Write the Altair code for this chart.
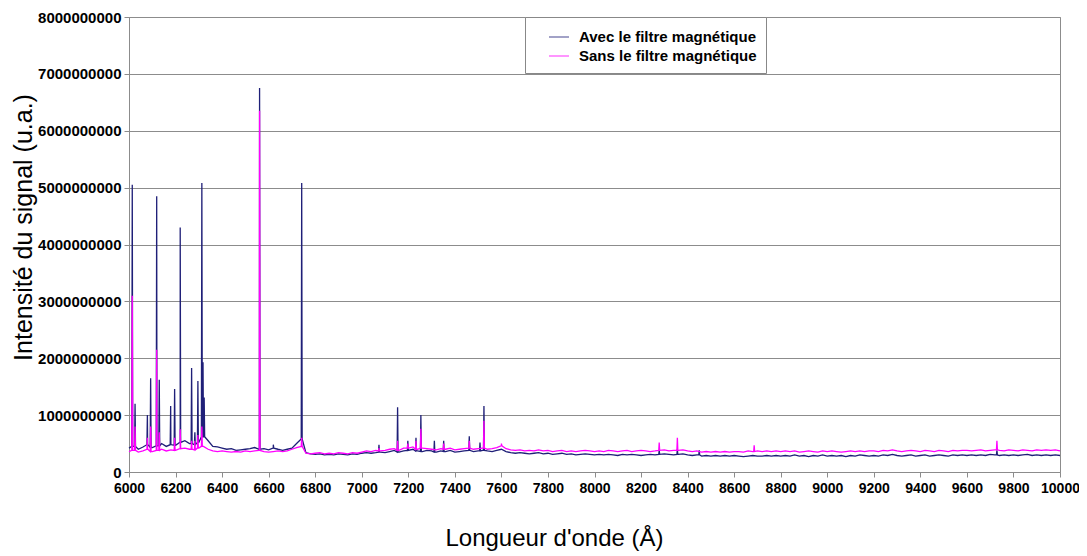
import altair as alt
import pandas as pd

# Sampled wavelength grid (Angstrom) for the continuum, every 20 A
grid_wl = list(range(6000, 10001, 20))

# Continuum level, in units of 1e9
avec_base = [
    0.42, 0.45, 0.40, 0.44, 0.48, 0.43, 0.46, 0.50, 0.45, 0.48, 0.47, 0.52, 0.55, 0.50, 0.48, 0.52, 0.62, 0.55, 0.45, 0.44,
    0.42, 0.40, 0.41, 0.38, 0.39, 0.40, 0.41, 0.43, 0.40, 0.41, 0.39, 0.42, 0.40, 0.38, 0.40, 0.42, 0.50, 0.58, 0.34, 0.32,
    0.31, 0.32, 0.30, 0.31, 0.30, 0.32, 0.31, 0.30, 0.32, 0.31, 0.33, 0.34, 0.33, 0.34, 0.35, 0.34, 0.36, 0.38, 0.35, 0.37,
    0.38, 0.40, 0.37, 0.36, 0.38, 0.37, 0.35, 0.37, 0.36, 0.38, 0.35, 0.36, 0.37, 0.38, 0.36, 0.37, 0.38, 0.37, 0.36, 0.38,
    0.40, 0.36, 0.34, 0.33, 0.34, 0.33, 0.32, 0.33, 0.34, 0.32, 0.33, 0.31, 0.32, 0.33, 0.31, 0.32, 0.30, 0.31, 0.32, 0.31,
    0.30, 0.31, 0.30, 0.31, 0.30, 0.29, 0.31, 0.30, 0.31, 0.30, 0.29, 0.30, 0.31, 0.30, 0.31, 0.32, 0.31, 0.30, 0.31, 0.32,
    0.30, 0.29, 0.30, 0.28, 0.29, 0.28, 0.29, 0.28, 0.29, 0.28, 0.29, 0.28, 0.27, 0.28, 0.29, 0.28, 0.28, 0.29, 0.28, 0.29,
    0.28, 0.29, 0.28, 0.30, 0.28, 0.29, 0.27, 0.29, 0.28, 0.30, 0.28, 0.29, 0.28, 0.29, 0.27, 0.29, 0.28, 0.30, 0.29, 0.28,
    0.29, 0.28, 0.30, 0.29, 0.31, 0.29, 0.28, 0.29, 0.30, 0.28, 0.29, 0.30, 0.28, 0.29, 0.30, 0.29, 0.28, 0.30, 0.29, 0.30,
    0.29, 0.30, 0.29, 0.30, 0.29, 0.31, 0.30, 0.29, 0.30, 0.29, 0.30, 0.29, 0.30, 0.31, 0.29, 0.30, 0.29, 0.30, 0.29, 0.30,
    0.29,
]
sans_base = [
    0.36, 0.38, 0.35, 0.37, 0.40, 0.36, 0.38, 0.40, 0.37, 0.39, 0.38, 0.41, 0.42, 0.40, 0.39, 0.42, 0.45, 0.40, 0.37, 0.36,
    0.37, 0.36, 0.35, 0.36, 0.35, 0.37, 0.36, 0.37, 0.38, 0.36, 0.35, 0.36, 0.37, 0.36, 0.37, 0.40, 0.43, 0.45, 0.33, 0.32,
    0.33, 0.34, 0.32, 0.33, 0.32, 0.34, 0.33, 0.32, 0.34, 0.33, 0.35, 0.37, 0.36, 0.38, 0.37, 0.38, 0.40, 0.41, 0.38, 0.42,
    0.42, 0.44, 0.40, 0.42, 0.41, 0.40, 0.39, 0.41, 0.40, 0.42, 0.39, 0.40, 0.41, 0.42, 0.40, 0.41, 0.42, 0.40, 0.41, 0.43,
    0.46, 0.41, 0.39, 0.38, 0.39, 0.37, 0.38, 0.37, 0.39, 0.37, 0.38, 0.36, 0.37, 0.38, 0.36, 0.37, 0.36, 0.37, 0.38, 0.37,
    0.36, 0.37, 0.36, 0.38, 0.37, 0.36, 0.37, 0.38, 0.36, 0.37, 0.38, 0.37, 0.36, 0.37, 0.38, 0.39, 0.37, 0.38, 0.38, 0.39,
    0.37, 0.36, 0.37, 0.35, 0.36, 0.35, 0.36, 0.35, 0.36, 0.35, 0.36, 0.36, 0.35, 0.37, 0.36, 0.37, 0.36, 0.37, 0.36, 0.37,
    0.36, 0.37, 0.36, 0.37, 0.35, 0.36, 0.37, 0.36, 0.35, 0.37, 0.36, 0.37, 0.36, 0.35, 0.36, 0.37, 0.36, 0.37, 0.36, 0.37,
    0.37, 0.36, 0.38, 0.37, 0.39, 0.37, 0.36, 0.37, 0.38, 0.37, 0.36, 0.38, 0.37, 0.36, 0.38, 0.37, 0.36, 0.38, 0.37, 0.38,
    0.38, 0.37, 0.38, 0.39, 0.37, 0.38, 0.39, 0.38, 0.37, 0.39, 0.38, 0.37, 0.39, 0.38, 0.37, 0.39, 0.38, 0.39, 0.38, 0.39,
    0.37,
]

# Emission lines: wavelength and peak height (1e9 units) for each series (None = no line)
peak_wl   = [6014, 6026, 6079, 6093, 6119, 6130, 6179, 6196, 6220, 6269, 6283, 6296, 6313, 6318, 6323,
             6561, 6620, 6742, 7074, 7154, 7198, 7233, 7254, 7312, 7352, 7462, 7508, 7525, 7600,
             8278, 8356, 8450, 8686, 9729]
peak_avec = [5.05, 1.20, 1.00, 1.65, 4.85, 1.62, 1.16, 1.46, 4.30, 1.83, 0.70, 1.60, 5.08, 1.93, 1.31,
             6.75, 0.48, 5.08, 0.48, 1.14, 0.55, 0.60, 1.00, 0.55, 0.55, 0.63, 0.52, 1.16, None,
             0.38, 0.40, 0.38, None, 0.38]
peak_sans = [3.10, 0.80, 0.60, 0.80, 2.15, 0.70, None, 0.60, 0.75, 0.55, 0.55, 0.65, 0.80, None, None,
             6.35, None, 0.60, 0.42, 0.55, 0.50, 0.55, 0.76, None, 0.50, 0.55, None, 0.90, 0.50,
             0.52, 0.60, None, 0.47, 0.55]

series_names = ["Avec le filtre magnétique", "Sans le filtre magnétique"]
series_colors = ["#1f1f78", "#ff00ff"]


def build(name, base, peaks):
    rows = [(w, v) for w, v in zip(grid_wl, base)]
    for w, p in zip(peak_wl, peaks):
        if p is None:
            continue
        b = base[round((w - 6000) / 20)]
        rows += [(w - 2, b), (w, p), (w + 2, b)]
    rows.sort(key=lambda r: r[0])
    return pd.DataFrame({"wl": [r[0] for r in rows],
                         "val": [r[1] * 1e9 for r in rows],
                         "series": name})


df_avec = build(series_names[0], avec_base, peak_avec)
df_sans = build(series_names[1], sans_base, peak_sans)

FONT = "Liberation Sans"

x_enc = alt.X("wl:Q", scale=alt.Scale(domain=[6000, 10000], nice=False, zero=False),
              axis=alt.Axis(values=list(range(6000, 10001, 200)), format="d", grid=False,
                            title="Longueur d'onde (Å)", titleFontSize=24, titleFontWeight="normal",
                            titleX=425, titleY=73, titleBaseline="alphabetic",
                            labelFontSize=14, labelFontWeight="bold", labelPadding=4,
                            labelOverlap=False, labelFlush=False, tickSize=5))
y_enc = alt.Y("val:Q", scale=alt.Scale(domain=[0, 8e9], nice=False),
              axis=alt.Axis(values=[i * 1e9 for i in range(9)], format="d", grid=True,
                            title="Intensité du signal (u.a.)", titleFontSize=25, titleFontWeight="normal",
                            titleY=210, titlePadding=1,
                            labelFontSize=15, labelFontWeight="bold", labelPadding=3, tickSize=5))
color_enc = alt.Color("series:N",
                      scale=alt.Scale(domain=series_names, range=series_colors),
                      legend=alt.Legend(title=None, orient="none", legendX=396, legendY=0,
                                        symbolType="stroke", symbolSize=400, symbolStrokeWidth=1.5,
                                        symbolOpacity=0.55, symbolOffset=14,
                                        labelFontSize=15, labelFontWeight="bold", labelFont=FONT,
                                        labelLimit=400, labelOffset=9, rowPadding=-4, padding=9,
                                        fillColor="white", strokeColor="#888888"))

line_avec = alt.Chart(df_avec).mark_line(strokeWidth=1.3).encode(x=x_enc, y=y_enc, color=color_enc)
line_sans = alt.Chart(df_sans).mark_line(strokeWidth=1.3).encode(x=x_enc, y=y_enc, color=color_enc)

chart = alt.layer(line_avec, line_sans).properties(
    width=931, height=455,
    autosize=alt.AutoSizeParams(type="none"),
    padding={"left": 121, "top": 9, "right": 19, "bottom": 80},
    background="white",
).configure_view(stroke="#8c8c8c", strokeWidth=1).configure_axis(
    labelFont=FONT, titleFont=FONT, labelColor="black", titleColor="black",
    gridColor="#8c8c8c", gridWidth=1, domainColor="#8c8c8c", tickColor="#8c8c8c",
)

chart.save("out.html", embed_options={"renderer": "svg", "actions": False})
